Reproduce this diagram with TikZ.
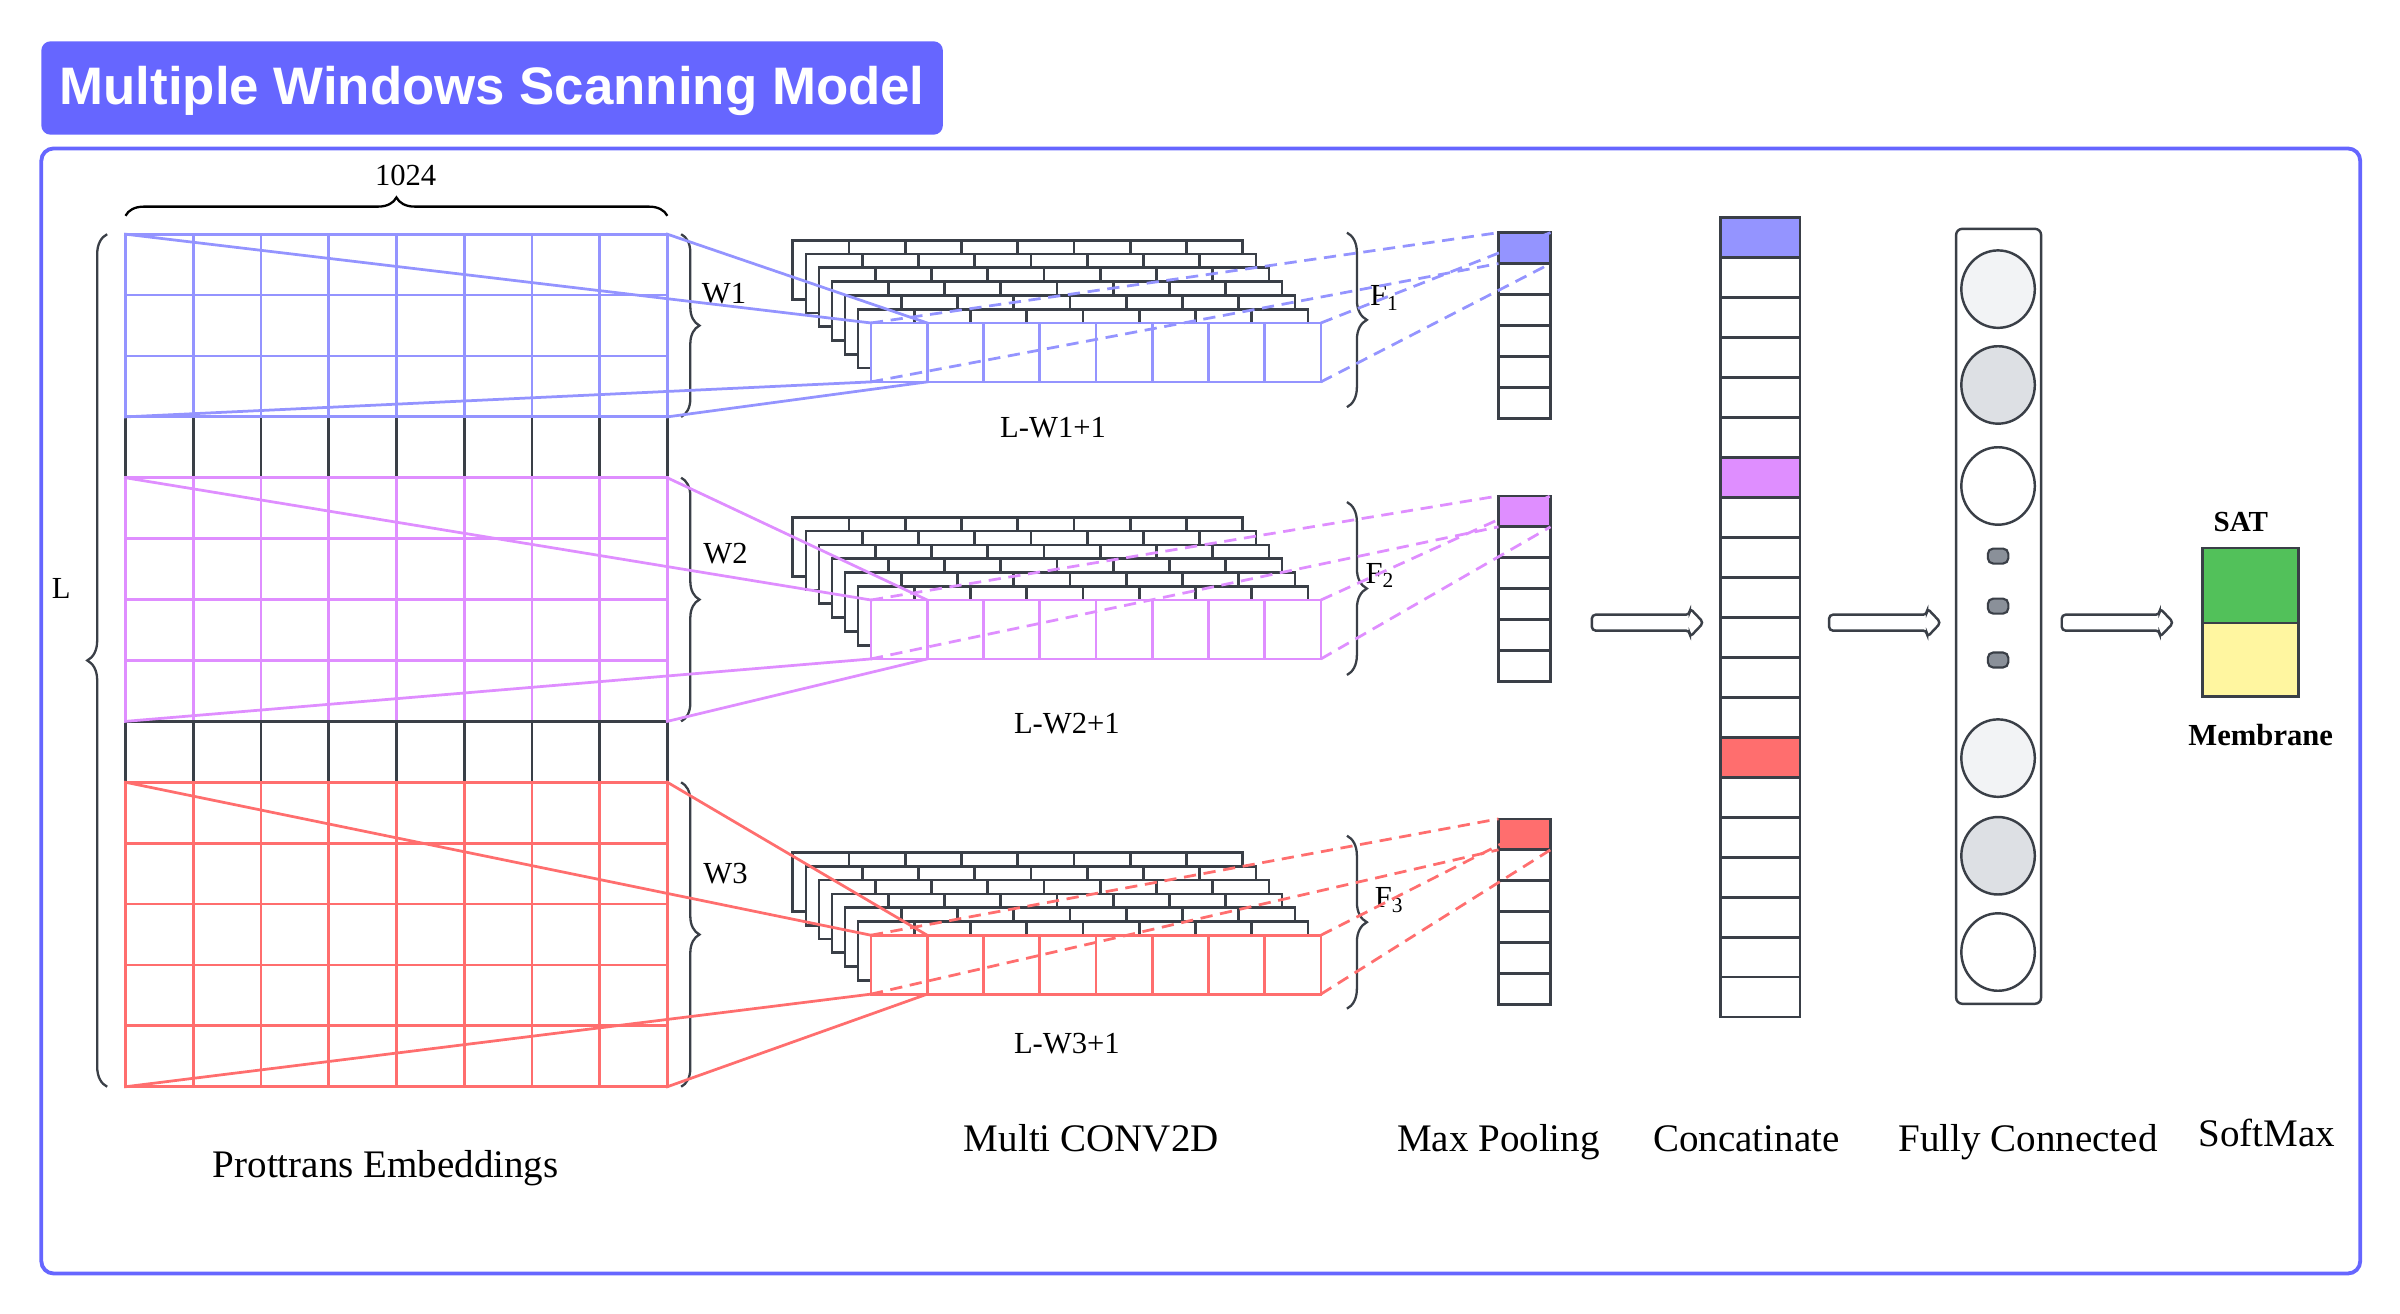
\documentclass[tikz,border=0pt]{standalone}
\usepackage{fontspec}
\setmainfont{Liberation Serif}
\newfontfamily\titlefont{Liberation Sans}
\usetikzlibrary{decorations.pathreplacing}
\definecolor{frameblue}{HTML}{6666FF}
\definecolor{cblue}{HTML}{9494FF}
\definecolor{cpink}{HTML}{DF8EFF}
\definecolor{cred}{HTML}{FF6E6E}
\definecolor{dark}{HTML}{3A3F47}
\definecolor{sgreen}{HTML}{52C15A}
\definecolor{syellow}{HTML}{FFF6A0}
\definecolor{nlight}{HTML}{F2F3F5}
\definecolor{ngray}{HTML}{DDE0E4}
\definecolor{dotgray}{HTML}{8A9099}
\tikzset{
  ln/.style={line width=1.8pt,line cap=rect},
  dsh/.style={line width=1.8pt,dash pattern=on 8pt off 5pt},
  brc/.style={draw=dark,line width=1.5pt,decorate,decoration={brace,amplitude=12pt}},
  smalllbl/.style={font=\fontsize{20}{24}\selectfont,inner sep=0pt},
  bottomlbl/.style={font=\fontsize{25.5}{30}\selectfont,inner sep=0pt,anchor=base},
  boldlbl/.style={font=\bfseries\fontsize{19}{23}\selectfont,inner sep=0pt,anchor=base},
}
\newcommand{\embblock}[3]{%
  \foreach \i in {0,...,8}
    {\draw[#1,ln] ({82+44.25*\i},{153+39.786*#2}) -- ({82+44.25*\i},{153+39.786*(#2+#3)});}
  \foreach \j in {0,...,#3}
    {\draw[#1,ln] (82,{153+39.786*(#2+\j)}) -- (436,{153+39.786*(#2+\j)});}
}
\newcommand{\convstack}[2]{%
  \foreach \k in {6,5,4,3,2,1}{%
    \pgfmathsetmacro{\ox}{569-8.5*\k}%
    \pgfmathsetmacro{\oy}{#2-9*\k}%
    \draw[dark,ln,fill=white] (\ox,\oy) rectangle ++(294,38.5);
    \foreach \cc in {1,...,7}{\draw[dark,ln] ({\ox+36.75*\cc},\oy) -- ++(0,38.5);}
  }%
  \draw[#1,ln,fill=white] (569,#2) rectangle ++(294,38.5);
  \foreach \cc in {1,...,7}{\draw[#1,ln] ({569+36.75*\cc},#2) -- ++(0,38.5);}
}
\newcommand{\poolcol}[2]{%
  \fill[#1] (979,#2) rectangle (1013,{#2+20.2});
  \draw[dark,ln] (979,#2) rectangle (1013,{#2+121.2});
  \foreach \j in {1,...,5}{\draw[dark,ln] (979,{#2+20.2*\j}) -- (1013,{#2+20.2*\j});}
}
\newcommand{\links}[6]{%
  \coordinate (#1etl) at (82,#3); \coordinate (#1etr) at (436,#3);
  \coordinate (#1ebl) at (82,#4); \coordinate (#1ebr) at (436,#4);
  \coordinate (#1ctl) at (569,#5); \coordinate (#1cct) at (605.75,#5);
  \coordinate (#1cbl) at (569,{#5+38.5}); \coordinate (#1ccb) at (605.75,{#5+38.5});
  \coordinate (#1ctr) at (863,#5); \coordinate (#1cbr) at (863,{#5+38.5});
  \coordinate (#1ptl) at (979,#6); \coordinate (#1ptr) at (1013,#6);
  \coordinate (#1pl) at (979,{#6+20.2}); \coordinate (#1pr) at (1013,{#6+20.2});
  \draw[#2,ln] (#1etl) -- (#1ctl);
  \draw[#2,ln] (#1etr) -- (#1cct);
  \draw[#2,ln] (#1ebl) -- (#1cbl);
  \draw[#2,ln] (#1ebr) -- (#1ccb);
  \draw[#2,dsh] (#1ctl) -- (#1ptl);
  \draw[#2,dsh] (#1cbl) -- (#1pl);
  \draw[#2,dsh] (#1ctr) -- (#1ptr);
  \draw[#2,dsh] (#1cbr) -- (#1pr);
}
\newcommand{\harrow}[4]{%
  \coordinate (#1s) at (#2,#4); \coordinate (#1e) at (#3,#4);
  \draw[dark,line width=1.6pt,fill=white,rounded corners=2.5pt]
    (#2,{#4-5.2}) -- ({#3-9},{#4-5.2}) -- ({#3-9},{#4-9.5}) -- (#3,#4)
    -- ({#3-9},{#4+9.5}) -- ({#3-9},{#4+5.2}) -- (#2,{#4+5.2}) -- cycle;
}
\begin{document}
\begin{tikzpicture}[x=1pt,y=-1pt]
\useasboundingbox (0,0) rectangle (1568,858);
% title and frame
\fill[frameblue,rounded corners=6pt] (27,27) rectangle (616,88);
\node[text=white,inner sep=0pt,anchor=base,font=\titlefont\bfseries\fontsize{34.5}{40}\selectfont] (title) at (321.5,68) {Multiple Windows Scanning Model};
\draw[frameblue,line width=2.5pt,rounded corners=8pt] (27,97) rectangle (1542,832);

% embedding grid
\embblock{dark}{3}{1}
\embblock{cblue}{0}{3}
\embblock{cpink}{4}{4}
\embblock{dark}{8}{1}
\embblock{cred}{9}{5}

% braces
\draw[brc,draw=black] (82,141) -- (436,141);
\node[smalllbl,anchor=base] (n1024) at (265,121.5) {1024};
\draw[brc,decoration={brace,amplitude=13pt}] (70,710) -- (70,153);
\node[smalllbl,anchor=base] (nL) at (40,391) {L};
\draw[brc] (445,153) -- (445,272.4);
\draw[brc] (445,312.1) -- (445,471.3);
\draw[brc] (445,511.1) -- (445,710);
\node[smalllbl,anchor=base] (nW1) at (473,198) {W1};
\node[smalllbl,anchor=base] (nW2) at (474,368) {W2};
\node[smalllbl,anchor=base] (nW3) at (474,577) {W3};

% conv stacks
\convstack{cblue}{211}
\convstack{cpink}{392}
\convstack{cred}{611}
\node[smalllbl,anchor=base] (nc1) at (688,286) {L-W1+1};
\node[smalllbl,anchor=base] (nc2) at (697,479) {L-W2+1};
\node[smalllbl,anchor=base] (nc3) at (697,688) {L-W3+1};

% F braces
\draw[brc,decoration={brace,amplitude=13pt}] (880,152) -- (880,266);
\draw[brc,decoration={brace,amplitude=13pt}] (880,328) -- (880,441);
\draw[brc,decoration={brace,amplitude=13pt}] (880,546) -- (880,659);
\node[smalllbl,anchor=base west] (nF1) at (895,199.5) {F\textsubscript{1}};
\node[smalllbl,anchor=base west] (nF2) at (892,381) {F\textsubscript{2}};
\node[smalllbl,anchor=base west] (nF3) at (898,593) {F\textsubscript{3}};

% pooling columns
\poolcol{cblue}{152}
\poolcol{cpink}{324}
\poolcol{cred}{535}

% connectors
\links{b}{cblue}{153}{272.36}{211}{152}
\links{p}{cpink}{312.14}{471.29}{392}{324}
\links{r}{cred}{511.07}{710}{611}{535}

% concatenation
\fill[cblue] (1124,142) rectangle (1176,168.125);
\fill[cpink] (1124,298.75) rectangle (1176,324.875);
\fill[cred] (1124,481.625) rectangle (1176,507.75);
\draw[dark,ln] (1124,142) rectangle (1176,664.5);
\foreach \j in {1,...,19}{\draw[dark,ln] (1124,{142+26.125*\j}) -- (1176,{142+26.125*\j});}

% arrows
\harrow{a1}{1040}{1113}{406.8}
\harrow{a2}{1195}{1268}{406.8}
\harrow{a3}{1347}{1420}{406.8}

% fully connected
\draw[dark,line width=1.6pt,fill=white,rounded corners=4pt] (1278,149.5) rectangle (1333.5,655.8);
\draw[dark,line width=1.6pt,fill=nlight] (1305.4,188.9) ellipse [x radius=24pt,y radius=25.3pt];
\draw[dark,line width=1.6pt,fill=ngray] (1305.4,251.5) ellipse [x radius=24pt,y radius=25.3pt];
\draw[dark,line width=1.6pt,fill=white] (1305.4,317.5) ellipse [x radius=24pt,y radius=25.3pt];
\draw[dark,line width=1.6pt,fill=nlight] (1305.4,495.3) ellipse [x radius=24pt,y radius=25.3pt];
\draw[dark,line width=1.6pt,fill=ngray] (1305.4,559.1) ellipse [x radius=24pt,y radius=25.3pt];
\draw[dark,line width=1.6pt,fill=white] (1305.4,622) ellipse [x radius=24pt,y radius=25.3pt];
\foreach \yy in {363.3,396,431.2}{\draw[dark,line width=1.4pt,fill=dotgray,rounded corners=3.5pt] (1298.7,{\yy-4.9}) rectangle (1312.1,{\yy+4.9});}

% softmax
\fill[sgreen] (1439,358) rectangle (1501.5,407);
\fill[syellow] (1439,407) rectangle (1501.5,455);
\draw[dark,ln] (1439,358) rectangle (1501.5,455);
\draw[dark,ln] (1439,407) -- (1501.5,407);
\node[boldlbl] (nsat) at (1464,347) {SAT};
\node[boldlbl,font=\bfseries\fontsize{20}{24}\selectfont] (nmem) at (1477,487) {Membrane};

% bottom labels
\node[bottomlbl] (lemb) at (252,769) {Prottrans Embeddings};
\node[bottomlbl] (lconv) at (713,752) {Multi CONV2D};
\node[bottomlbl] (lpool) at (979,752) {Max Pooling};
\node[bottomlbl] (lcat) at (1141,752) {Concatinate};
\node[bottomlbl] (lfc) at (1325,752) {Fully Connected};
\node[bottomlbl] (lsm) at (1481,749) {SoftMax};
\end{tikzpicture}
\end{document}
